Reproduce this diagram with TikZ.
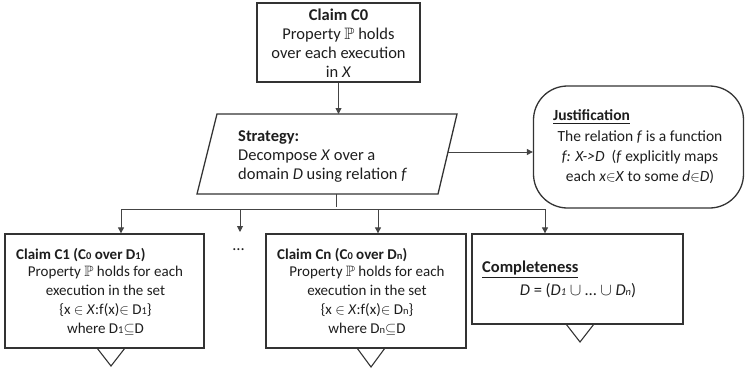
\documentclass[tikz,border=0pt]{standalone}
\usepackage{amssymb}
\usepackage{fontspec}
\setmainfont{Carlito}
\usetikzlibrary{arrows.meta}

\definecolor{frame}{HTML}{333333}
\definecolor{wire}{HTML}{444444}
\definecolor{ink}{HTML}{1E1E1E}

% small index digits/letters set on the baseline
\newcommand{\idx}[1]{{\fontsize{10.5}{10}\selectfont #1}}

\begin{document}
\begin{tikzpicture}[x=1pt,y=-1pt,
  box/.style={draw=frame,line width=1.3pt,inner sep=0pt,fill=white},
  conn/.style={draw=wire,line width=0.9pt},
  arr/.style={conn,-{Triangle[length=6pt,width=6pt]}},
  txt/.style={inner sep=0pt,text=ink,font=\fontsize{16.5}{19}\selectfont},
  justtxt/.style={txt,font=\fontsize{15.5}{20}\selectfont},
  claimtxt/.style={txt,font=\fontsize{15}{19}\selectfont},
  tri/.style={draw=frame,line width=1.1pt,line join=miter}]

\useasboundingbox (0,0) rectangle (746,370);

% boxes
\node[box,minimum width=163pt,minimum height=79pt] (c0) at (338.5,42.5) {};
\node[box,minimum width=199pt,minimum height=114pt] (c1) at (104.5,291) {};
\node[box,minimum width=200pt,minimum height=114pt] (cn) at (366,291) {};
\node[box,minimum width=211pt,minimum height=90pt] (comp) at (577.5,279) {};
\node[box,rounded corners=34pt,minimum width=210pt,minimum height=122pt] (just) at (638.5,147) {};

% strategy parallelogram
\draw[draw=frame,line width=1.3pt,line join=miter] (217,114) -- (457,114) -- (438,194) -- (197,194) -- cycle;
\coordinate (stratTop) at (338.5,114);
\coordinate (stratRight) at (448,152);
\coordinate (stratBot) at (336,194);
\coordinate (fork) at (336,209);
\coordinate (b1) at (121,209);
\coordinate (b2) at (240,209);
\coordinate (b3) at (378,209);
\coordinate (b4) at (545,209);
\coordinate (dotsTop) at (240,232);

% connectors
\draw[arr] (c0.south) -- (stratTop);
\draw[arr] (stratRight) -- (stratRight -| just.west);
\draw[conn] (stratBot) -- ([yshift=2pt]fork);
\draw[conn] (b1) -- (b4);
\draw[arr] (b1) -- (b1 |- c1.north);
\draw[arr] (b2) -- (dotsTop);
\draw[arr] (b3) -- (b3 |- cn.north);
\draw[arr] (b4) -- (b4 |- comp.north);

% undeveloped markers
\draw[tri] (97,348) -- (111,366) -- (125,348);
\draw[tri] (357,348) -- (371,367) -- (385,348);
\draw[tri] (566,324) -- (580,342) -- (594,324);

% texts
\node[txt,align=center] (c0t) at (338.5,43.5)
  {{\bfseries Claim C0}\\Property $\mathbb{P}$ holds\\over each execution\\in \textit{X}};
\node[txt,align=left,anchor=west] (st) at (238,156.5)
  {{\bfseries Strategy:}\\Decompose \textit{X} over a\\domain \textit{D} using relation \textit{f}};
\node[justtxt,anchor=west] (justt) at (553,117) {\underline{\bfseries Justification}};
\node[justtxt,align=center] (justb) at (640,157)
  {The relation \textit{f} is a function\\\textit{f: X->D}\ \ (\textit{f} explicitly maps\\each \textit{x}$\in$\textit{X} to some \textit{d}$\in$\textit{D})};
\node[claimtxt,anchor=west] (c1t) at (16,255) {\bfseries Claim C1 (C\idx{0} over D\idx{1})};
\node[claimtxt,align=center] (c1b) at (105.5,300.5)
  {Property $\mathbb{P}$ holds for each\\execution in the set\\\{x $\in$ \textit{X}:f(x)$\in$ D\idx{1}\}\\where D\idx{1}$\subseteq$D};
\node[claimtxt,anchor=west] (cnt) at (277,255) {\bfseries Claim Cn (C\idx{0} over D\idx{n})};
\node[claimtxt,align=center] (cnb) at (367,300.5)
  {Property $\mathbb{P}$ holds for each\\execution in the set\\\{x $\in$ \textit{X}:f(x)$\in$ D\idx{n}\}\\where D\idx{n}$\subseteq$D};
\node[txt,anchor=west] (compt) at (482,270) {\underline{\bfseries Completeness}};
\node[txt] (compb) at (578,291)
  {\textit{D} = (\textit{D\idx{1}} $\cup$ \dots\ $\cup$ \textit{D\idx{n}})};
\node[txt] (dots) at (238.5,250) {\dots};

\end{tikzpicture}
\end{document}
